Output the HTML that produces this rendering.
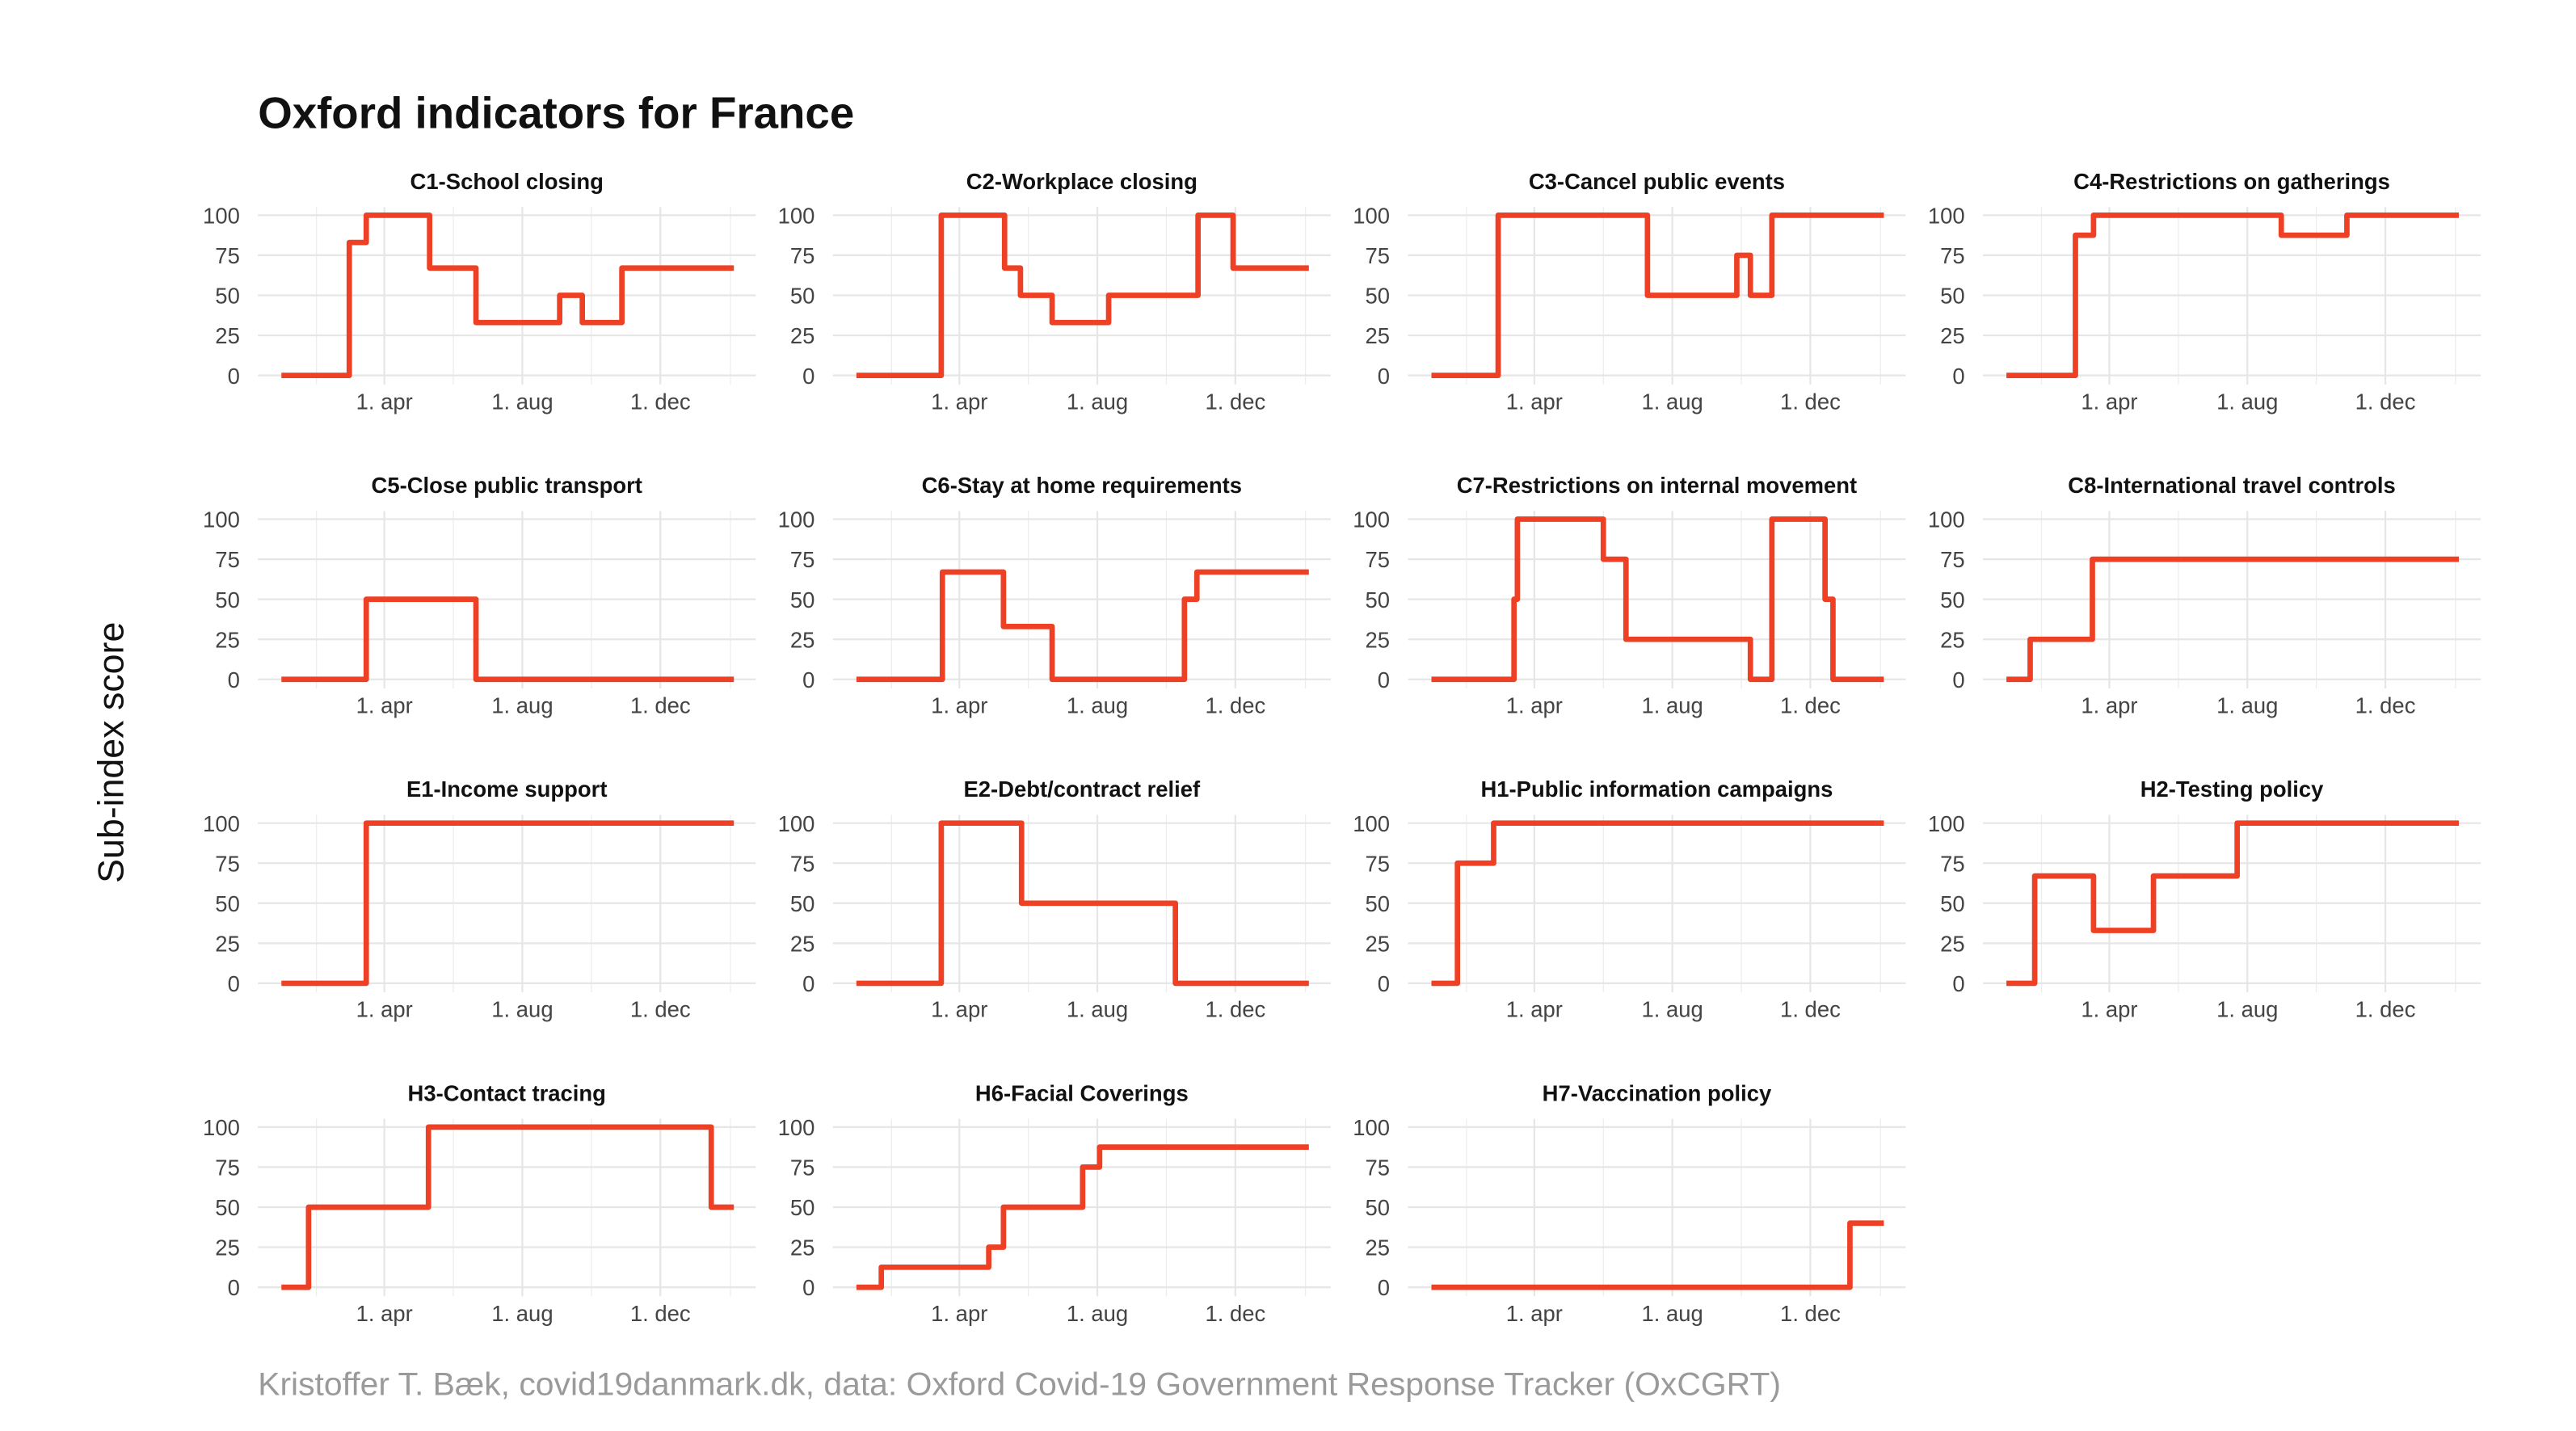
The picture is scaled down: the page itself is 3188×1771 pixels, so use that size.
<!DOCTYPE html>
<html><head><meta charset="utf-8">
<style>
html,body{margin:0;padding:0;background:#fff;}
svg{display:block;font-family:"Liberation Sans",sans-serif;}
</style></head>
<body>
<svg id="chart" width="3188" height="1771" viewBox="0 0 1568 871" preserveAspectRatio="none" xmlns="http://www.w3.org/2000/svg">
<rect x="0" y="0" width="1568" height="871" fill="#fff"/>
<text x="157" y="78" font-size="27" font-weight="bold" fill="#111" textLength="363" lengthAdjust="spacingAndGlyphs">Oxford indicators for France</text>
<text x="157" y="849" font-size="19.5" fill="#9a9a9a" textLength="927" lengthAdjust="spacingAndGlyphs">Kristoffer T. Bæk, covid19danmark.dk, data: Oxford Covid-19 Government Response Tracker (OxCGRT)</text>
<text transform="translate(75,458) rotate(-90)" text-anchor="middle" font-size="22" fill="#111">Sub-index score</text>
<g id="panels"></g>
</svg>
<script>
const titles = ["C1-School closing","C2-Workplace closing","C3-Cancel public events","C4-Restrictions on gatherings",
"C5-Close public transport","C6-Stay at home requirements","C7-Restrictions on internal movement","C8-International travel controls",
"E1-Income support","E2-Debt/contract relief","H1-Public information campaigns","H2-Testing policy",
"H3-Contact tracing","H6-Facial Coverings","H7-Vaccination policy"];
// change days (days since 1 Jan 2020) and values after each change
const c1Days=[0,60,75,131,172,246,266,301]; const c1Vals=[0,83,100,67,33,50,33,67];
const c2Days=[0,75,131,145,173,223,302,333]; const c2Vals=[0,100,67,50,33,50,100,67];
const c3Days=[0,59,191,270,282,301]; const c3Vals=[0,100,50,75,50,100];
const c4Days=[0,61,77,243,301]; const c4Vals=[0,87.5,100,87.5,100];
const c5Days=[0,75,172]; const c5Vals=[0,50,0];
const c6Days=[0,76,130,173,290,301]; const c6Vals=[0,67,33,0,50,67];
const c7Days=[0,73,76,152,172,282,301,348,355]; const c7Vals=[0,50,100,75,25,0,100,50,0];
const c8Days=[0,21,76]; const c8Vals=[0,25,75];
const e1Days=[0,75]; const e1Vals=[0,100];
const e2Days=[0,75,146,282]; const e2Vals=[0,100,50,0];
const h1Days=[0,23,55]; const h1Vals=[0,75,100];
const h2Days=[0,25,77,130,204]; const h2Vals=[0,67,33,67,100];
const h3Days=[0,24,130,380]; const h3Vals=[0,50,100,50];
const h6Days=[0,22,117,130,200,215]; const h6Vals=[0,12.5,25,50,75,87.5];
const h7Days=[0,370]; const h7Vals=[0,40];
const endDay=400;
const yTicks=[0,25,50,75,100];
const xTickDays=[91,213,335]; const xTickLabels=["1. apr","1. aug","1. dec"];
const minorDays=[31,152,274,397];

const series=[[c1Days,c1Vals],[c2Days,c2Vals],[c3Days,c3Vals],[c4Days,c4Vals],[c5Days,c5Vals],[c6Days,c6Vals],[c7Days,c7Vals],[c8Days,c8Vals],
[e1Days,e1Vals],[e2Days,e2Vals],[h1Days,h1Vals],[h2Days,h2Vals],[h3Days,h3Vals],[h6Days,h6Vals],[h7Days,h7Vals]];

const NS="http://www.w3.org/2000/svg";
const root=document.getElementById('panels');
function mk(tag,attrs,parent){const e=document.createElementNS(NS,tag);for(const k in attrs)e.setAttribute(k,attrs[k]);parent.appendChild(e);return e;}
function slug(t){return t.toLowerCase().replace(/[^a-z0-9]+/g,'-').replace(/-$/,'');}

series.forEach((s,i)=>{
  const col=i%4,row=Math.floor(i/4);
  const ox=350*col,oy=185*row;
  const xS=d=>171.3+d*0.6885+ox;
  const yS=v=>228.5-v*0.975+oy;
  const g=mk('g',{},root);
  
  
  minorDays.forEach(d=>{const l=mk('line',{x1:xS(d),x2:xS(d),y1:126+oy,y2:234+oy,stroke:'#ececec','stroke-width':0.6},g);
    
    });
  xTickDays.forEach(d=>{const l=mk('line',{x1:xS(d),x2:xS(d),y1:126+oy,y2:234+oy,stroke:'#e6e6e6','stroke-width':1.1},g);
    
    });
  yTicks.forEach(v=>{const l=mk('line',{x1:157+ox,x2:460+ox,y1:yS(v),y2:yS(v),stroke:'#e6e6e6','stroke-width':1.1},g);
    
    
    const t=mk('text',{x:146+ox,y:yS(v)+5,'text-anchor':'end','font-size':13.5,fill:'#444'},g);
    t.textContent=v;
    
    });
  xTickDays.forEach((d,k)=>{const t=mk('text',{x:xS(d),y:249+oy,'text-anchor':'middle','font-size':13.5,fill:'#444'},g);
    t.textContent=xTickLabels[k];
    
    });
  const tt=mk('text',{x:308.5+ox,y:115+oy,'text-anchor':'middle','font-size':13.5,'font-weight':'bold',fill:'#111'},g);
  tt.textContent=titles[i];
  
  
  const [days,vals]=s;
  let p='M'+xS(days[0])+' '+yS(vals[0]);
  for(let k=1;k<days.length;k++){p+=' H'+xS(days[k])+' V'+yS(vals[k]);}
  p+=' H'+xS(endDay);
  const path=mk('path',{d:p,fill:'none',stroke:'#EE4024','stroke-width':3.3,'stroke-linejoin':'round'},g);
  
  
});
</script>
</body></html>
